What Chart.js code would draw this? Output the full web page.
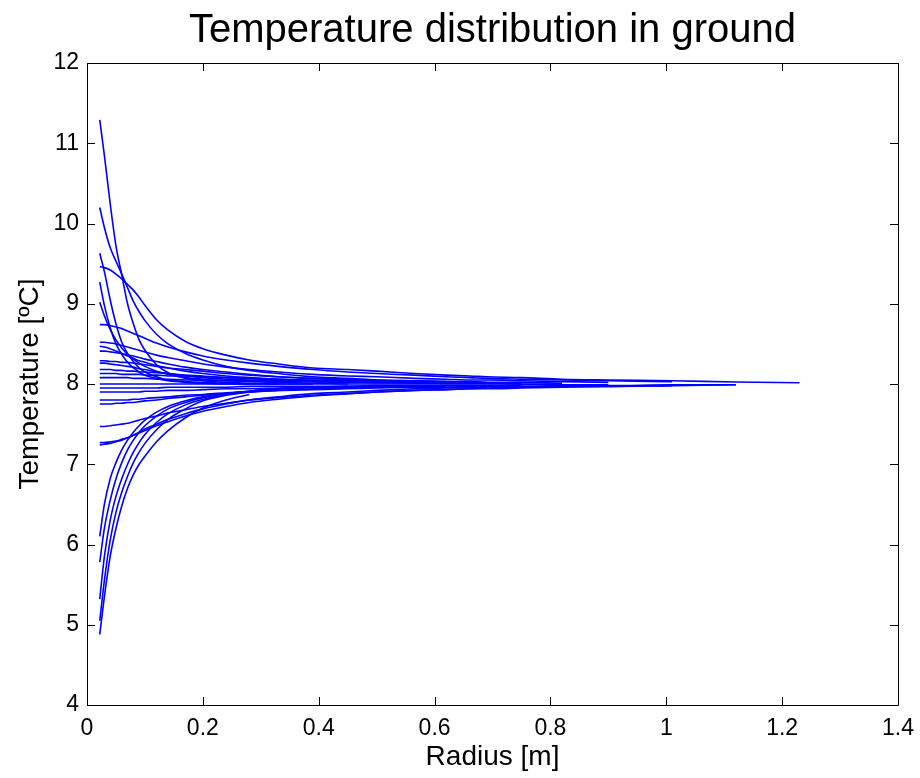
<!DOCTYPE html>
<html lang="en">
<head>
    <meta charset="UTF-8">
    <title>Temperature distribution in ground</title>
    <script src="https://cdn.jsdelivr.net/npm/chart.js"></script>
    <style>
        body { margin: 0; background: #fff; }
        #chart { display: block; }
    </style>
</head>
<body>
    <canvas id="chart" width="920" height="778"></canvas>

    <script>
        // Радиусы сетки (м), общие для всех кривых; кривая кончается там, где кончается её массив
        const radius = [0.022, 0.03, 0.04, 0.05, 0.06, 0.07, 0.08, 0.09, 0.10, 0.12, 0.14, 0.17, 0.20, 0.24,
                        0.28, 0.33, 0.39, 0.45, 0.50, 0.565, 0.62, 0.66, 0.69, 0.75, 0.82, 0.90, 1.01, 1.12, 1.23];

        // Температуры (°C) по кривым
        const t1  = [11.29, 10.85, 10.25, 9.72, 9.36, 9.0, 8.75, 8.55, 8.42, 8.24, 8.14, 8.07, 8.04, 8.02, 8.01, 8.0, 8.0];
        const t2  = [10.2, 9.95, 9.7, 9.53, 9.37, 9.2, 9.03, 8.9, 8.79, 8.62, 8.5, 8.38, 8.3, 8.22, 8.17, 8.13, 8.09, 8.07, 8.05, 8.04, 8.03];
        const t3  = [9.46, 9.45, 9.42, 9.37, 9.31, 9.24, 9.17, 9.08, 8.98, 8.8, 8.67, 8.53, 8.44, 8.36, 8.3, 8.25, 8.2, 8.18,
                     8.16, 8.13, 8.11, 8.1, 8.09, 8.08, 8.06, 8.05, 8.04, 8.025, 8.015];
        const t4  = [9.63, 9.4, 9.05, 8.75, 8.52, 8.38, 8.28, 8.2, 8.15, 8.09, 8.05, 8.03, 8.02, 8.01, 8.0, 8.0];
        const t5  = [9.27, 8.98, 8.7, 8.5, 8.37, 8.27, 8.2, 8.15, 8.11, 8.07, 8.04, 8.02, 8.01, 8.0, 8.0];
        const t6  = [9.02, 8.85, 8.68, 8.55, 8.45, 8.37, 8.31, 8.26, 8.22, 8.16, 8.12, 8.08, 8.06, 8.04, 8.03, 8.02, 8.01, 8.0];
        const t7  = [8.74, 8.74, 8.73, 8.71, 8.69, 8.66, 8.63, 8.6, 8.57, 8.51, 8.46, 8.4, 8.35, 8.3, 8.26, 8.22, 8.18, 8.15,
                     8.13, 8.11, 8.09, 8.08, 8.07, 8.06, 8.05, 8.04, 8.03];
        const t8  = [8.52, 8.52, 8.51, 8.5, 8.48, 8.46, 8.44, 8.42, 8.4, 8.36, 8.33, 8.29, 8.25, 8.21, 8.18, 8.15, 8.12, 8.1,
                     8.09, 8.07, 8.06, 8.05, 8.05, 8.04, 8.03, 8.02];
        const t9  = [8.47, 8.46, 8.44, 8.41, 8.38, 8.35, 8.32, 8.29, 8.27, 8.23, 8.2, 8.16, 8.13, 8.1, 8.08, 8.06, 8.04, 8.03, 8.02, 8.02];
        const t10 = [8.29, 8.29, 8.28, 8.28, 8.27, 8.27, 8.26, 8.25, 8.24, 8.22, 8.2, 8.18, 8.16, 8.13, 8.11, 8.09, 8.07, 8.06,
                     8.05, 8.04, 8.03, 8.03, 8.02];
        const t11 = [8.26, 8.26, 8.25, 8.24, 8.23, 8.22, 8.21, 8.19, 8.18, 8.15, 8.13, 8.1, 8.08, 8.06, 8.05, 8.04, 8.03, 8.02,
                     8.02, 8.01, 8.01, 8.01];
        const t12 = [8.08, 8.08, 8.08, 8.08, 8.08, 8.08, 8.07, 8.07, 8.07, 8.06, 8.06, 8.05, 8.05, 8.04, 8.04, 8.03, 8.03, 8.02,
                     8.02, 8.02, 8.01, 8.01, 8.01, 8.01];
        const t13 = [8.0, 8.0, 8.0, 8.0, 8.0, 8.0, 8.0, 8.0, 8.0, 8.0, 8.0, 8.0, 8.0, 8.0, 8.0, 8.0, 8.0, 8.0,
                     8.0, 8.0, 8.0, 8.0, 8.0, 8.0, 8.0];
        const t14 = [7.95, 7.95, 7.95, 7.95, 7.95, 7.95, 7.95, 7.95, 7.95, 7.95, 7.96, 7.96, 7.96, 7.96, 7.97, 7.97, 7.97, 7.97,
                     7.98, 7.98, 7.98, 7.98, 7.98, 7.99, 7.99, 7.99];
        const t15 = [7.8, 7.8, 7.8, 7.8, 7.8, 7.8, 7.81, 7.81, 7.82, 7.83, 7.84, 7.86, 7.87, 7.89, 7.9, 7.92, 7.93, 7.94,
                     7.95, 7.96, 7.96, 7.97, 7.97, 7.97, 7.98, 7.98, 7.99, 7.99];
        const t16 = [7.47, 7.47, 7.48, 7.49, 7.5, 7.51, 7.53, 7.55, 7.57, 7.6, 7.64, 7.68, 7.72, 7.76, 7.8, 7.83, 7.86, 7.88,
                     7.9, 7.92, 7.93, 7.94, 7.94, 7.95, 7.96, 7.97, 7.98];
        const t17 = [7.27, 7.27, 7.28, 7.29, 7.31, 7.33, 7.36, 7.39, 7.42, 7.48, 7.53, 7.6, 7.66, 7.72, 7.77, 7.81, 7.85, 7.88,
                     7.9, 7.92, 7.93, 7.94, 7.95, 7.96, 7.97, 7.97, 7.98, 7.99];
        const t18 = [7.24, 7.25, 7.26, 7.28, 7.3, 7.33, 7.36, 7.4, 7.44, 7.5, 7.56, 7.63, 7.69, 7.75, 7.8, 7.84, 7.88, 7.9,
                     7.92, 7.94, 7.95, 7.96, 7.96];
        const t19 = [6.1, 6.5, 6.82, 7.02, 7.18, 7.3, 7.4, 7.48, 7.55, 7.65, 7.72, 7.79, 7.84, 7.88, 7.91, 7.94, 7.96, 7.97, 7.98];
        const t20 = [5.78, 6.2, 6.55, 6.82, 7.02, 7.18, 7.3, 7.4, 7.48, 7.6, 7.69, 7.77, 7.83, 7.88, 7.91, 7.94, 7.96, 7.97];
        const t21 = [5.32, 5.85, 6.3, 6.6, 6.82, 7.0, 7.15, 7.27, 7.37, 7.52, 7.63, 7.74, 7.81, 7.87, 7.91, 7.94, 7.96];
        const t22 = [5.05, 5.55, 6.05, 6.4, 6.65, 6.85, 7.02, 7.15, 7.26, 7.43, 7.56, 7.69, 7.79, 7.86, 7.9, 7.94];
        const t23 = [4.88, 5.35, 5.85, 6.2, 6.48, 6.7, 6.87, 7.0, 7.1, 7.28, 7.42, 7.58, 7.7, 7.8, 7.87];
        const t24 = [8.18, 8.18, 8.18, 8.17, 8.17, 8.16, 8.16, 8.15, 8.15, 8.14, 8.13, 8.11, 8.1, 8.08, 8.07, 8.05, 8.04, 8.03,
                     8.02, 8.02];
        const t25 = [7.75, 7.75, 7.75, 7.76, 7.76, 7.77, 7.77, 7.78, 7.79, 7.8, 7.82, 7.84, 7.86, 7.88, 7.9, 7.92, 7.94, 7.95,
                     7.96, 7.97, 7.97];
        const t26 = [8.41, 8.41, 8.4, 8.39, 8.38, 8.36, 8.35, 8.33, 8.31, 8.28, 8.25, 8.21, 8.18, 8.15, 8.12, 8.09, 8.07, 8.05, 8.04];
        const t27 = [8.13, 8.13, 8.13, 8.13, 8.12, 8.12, 8.12, 8.12, 8.11, 8.11, 8.1, 8.1, 8.09, 8.08, 8.07, 8.06, 8.05, 8.04,
                     8.04, 8.03, 8.03, 8.02, 8.02, 8.02, 8.01];
        const t28 = [7.9, 7.9, 7.9, 7.9, 7.9, 7.9, 7.9, 7.9, 7.91, 7.91, 7.92, 7.92, 7.93, 7.94, 7.94, 7.95, 7.96, 7.96,
                     7.97, 7.97, 7.98, 7.98, 7.98, 7.98];

        const curves = [t1, t2, t3, t4, t5, t6, t7, t8, t9, t10, t11, t12, t13, t14, t15, t16, t17, t18, t19, t20,
                        t21, t22, t23, t24, t25, t26, t27, t28];

        const xTickLabels = ['0', '0.2', '0.4', '0.6', '0.8', '1', '1.2', '1.4'];
        const yTickLabels = ['4', '5', '6', '7', '8', '9', '10', '11', '12'];

        const FONT = "'Liberation Sans', Arial, Helvetica, sans-serif";

        // рамка со штрихами внутрь на всех четырёх сторонах + заголовок по центру области графика
        const framePlugin = {
            id: 'frame',
            afterDraw(chart) {
                const { ctx, chartArea: a, scales: { x, y } } = chart;
                ctx.save();
                ctx.strokeStyle = '#000';
                ctx.lineWidth = 1;
                ctx.beginPath();
                ctx.rect(Math.round(a.left) + 0.5, Math.round(a.top) + 0.5,
                         Math.round(a.right - a.left), Math.round(a.bottom - a.top));
                ctx.stroke();
                const len = 8;
                ctx.beginPath();
                x.ticks.forEach(t => {
                    const px = Math.round(x.getPixelForValue(t.value)) + 0.5;
                    ctx.moveTo(px, a.bottom); ctx.lineTo(px, a.bottom - len);
                    ctx.moveTo(px, a.top); ctx.lineTo(px, a.top + len);
                });
                y.ticks.forEach(t => {
                    const py = Math.round(y.getPixelForValue(t.value)) + 0.5;
                    ctx.moveTo(a.left, py); ctx.lineTo(a.left + len, py);
                    ctx.moveTo(a.right, py); ctx.lineTo(a.right - len, py);
                });
                ctx.stroke();

                ctx.fillStyle = '#000';
                ctx.font = `40px ${FONT}`;
                ctx.textAlign = 'center';
                ctx.textBaseline = 'alphabetic';
                ctx.fillText('Temperature distribution in ground', (a.left + a.right) / 2, 42);
                ctx.restore();
            }
        };

        const datasets = curves.map(t => ({
            data: t.map((v, i) => ({ x: radius[i], y: v })),
            borderColor: '#0000ff',
            borderWidth: 1.6,
            pointRadius: 0,
            fill: false,
            cubicInterpolationMode: 'monotone'
        }));

        new Chart(document.getElementById('chart'), {
            type: 'line',
            data: { datasets: datasets },
            options: {
                responsive: false,
                animation: false,
                layout: { padding: { top: 63, right: 22, left: 0, bottom: 0 } },
                plugins: {
                    legend: { display: false },
                    tooltip: { enabled: false },
                    title: { display: false }
                },
                scales: {
                    x: {
                        type: 'linear',
                        min: 0,
                        max: 1.4,
                        afterFit: s => { s.height = 73; s.paddingLeft = 0; s.paddingRight = 0; },
                        grid: { display: false, drawTicks: false },
                        border: { display: false },
                        ticks: {
                            stepSize: 0.2,
                            padding: 10,
                            color: '#000',
                            font: { family: FONT, size: 23 },
                            maxRotation: 0,
                            callback: (v, i) => xTickLabels[i]
                        },
                        title: {
                            display: true,
                            text: 'Radius [m]',
                            color: '#000',
                            font: { family: FONT, size: 28 },
                            padding: { top: 9 }
                        }
                    },
                    y: {
                        type: 'linear',
                        min: 4,
                        max: 12,
                        afterFit: s => { s.width = 87; },
                        grid: { display: false, drawTicks: false },
                        border: { display: false },
                        ticks: {
                            stepSize: 1,
                            padding: 8,
                            color: '#000',
                            font: { family: FONT, size: 23 },
                            callback: (v, i) => yTickLabels[i]
                        },
                        title: {
                            display: true,
                            text: 'Temperature [ºC]',
                            color: '#000',
                            font: { family: FONT, size: 28 },
                            padding: { top: 13 }
                        }
                    }
                }
            },
            plugins: [framePlugin]
        });
    </script>
</body>
</html>
